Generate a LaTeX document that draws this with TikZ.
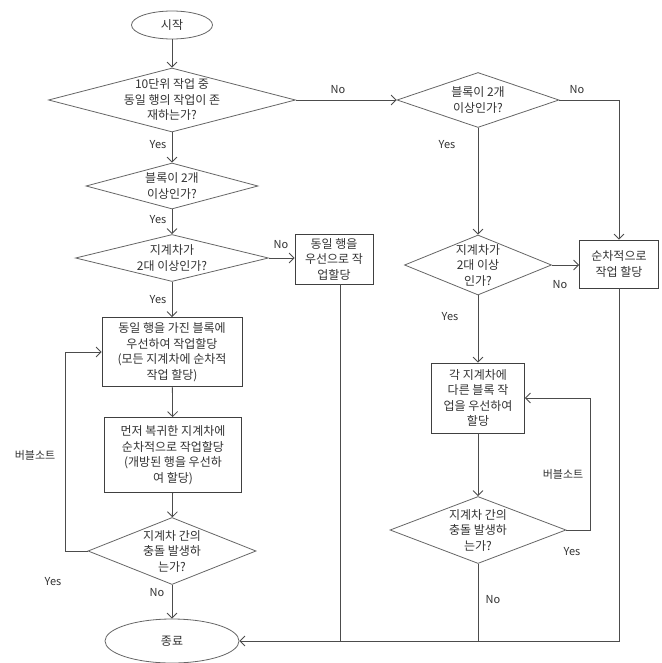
\documentclass[tikz,border=0pt]{standalone}
\usepackage{fontspec}
\setmainfont{Noto Sans CJK KR}
\usetikzlibrary{shapes.geometric,arrows.meta}
\tikzset{
  ln/.style={draw=black!70, line width=0.8pt},
  arr/.style={ln, -{Straight Barb[length=5pt,width=10pt]}},
  dia/.style={diamond, draw=black!60, line width=0.8pt, inner sep=0pt},
  box/.style={rectangle, draw=black!75, line width=0.8pt, inner sep=0pt, align=center, text=black!80, font=\fontsize{12}{15.5}\selectfont},
  term/.style={ellipse, draw=black!60, line width=0.8pt, inner sep=0pt, text=black!80, font=\fontsize{12}{15.5}\selectfont},
  dtxt/.style={align=center, text=black!80, font=\fontsize{12}{15.5}\selectfont},
  lbl/.style={text=black!80, font=\fontsize{11}{12}\selectfont, inner sep=0pt}
}
\begin{document}
\begin{tikzpicture}[x=1pt,y=-1pt]
\useasboundingbox[fill=white] (0,0) rectangle (661,663);
% left column
\node[term, minimum width=81pt, minimum height=28pt] (start) at (172,25) {시작};
\node[dia, minimum width=247pt, minimum height=64pt, label={[dtxt]center:10단위 작업 중\\동일 행의 작업이 존\\재하는가?}] (d1) at (172,100) {};
\node[dia, minimum width=172pt, minimum height=46pt, label={[dtxt]center:블록이 2개\\이상인가?}] (d2) at (172,186) {};
\node[dia, minimum width=193pt, minimum height=47pt, label={[dtxt]center:지계차가\\2대 이상인가?}] (d3) at (172,258) {};
\node[box, minimum width=78pt, minimum height=50pt] (bA) at (334,259) {동일 행을\\우선으로 작\\업할당};
\node[box, minimum width=140pt, minimum height=69pt] (b1) at (172,352) {동일 행을 가진 블록에\\우선하여 작업할당\\(모든 지계차에 순차적\\작업 할당)};
\node[box, minimum width=137pt, minimum height=75pt] (b2) at (173,455) {먼저 복귀한 지계차에\\순차적으로 작업할당\\(개방된 행을 우선하\\여 할당)};
\node[dia, minimum width=168pt, minimum height=67pt, label={[dtxt]center:지계차 간의\\충돌 발생하\\는가?}] (d4) at (172,551) {};
\node[term, minimum width=134pt, minimum height=44pt] (end) at (172,641) {종료};
% right column
\node[dia, minimum width=162pt, minimum height=55pt, label={[dtxt]center:블록이 2개\\이상인가?}] (r1) at (478,100) {};
\node[dia, minimum width=147pt, minimum height=60pt, label={[dtxt]center:지계차가\\2대 이상\\인가?}] (r2) at (478,265) {};
\node[box, minimum width=79pt, minimum height=48pt] (rB) at (619,264) {순차적으로\\작업 할당};
\node[box, minimum width=93pt, minimum height=70pt] (r3) at (478,398) {각 지계차에\\다른 블록 작\\업을 우선하여\\할당};
\node[dia, minimum width=176pt, minimum height=67pt, label={[dtxt]center:지계차 간의\\충돌 발생하\\는가?}] (r4) at (478,530) {};
% helper coordinates
\coordinate (lp) at (65,0);
\coordinate (rp) at (590,0);
\coordinate (aX) at (340,0);
% left connectors
\draw[arr] (start) -- (d1);
\draw[arr] (d1) -- (d2);
\draw[arr] (d2) -- (d3);
\draw[arr] (d3) -- (b1);
\draw[arr] (d3.east) -- (bA.west |- d3.east);
\draw[arr] (b1) -- (b2);
\draw[arr] (b2) -- (d4);
\draw[arr] (d4) -- (end);
\draw[arr] (d4.west) -- (d4.west -| lp) -- (b1.west -| lp) -- (b1.west);
% right connectors
\draw[arr] (d1.east) -- (r1.west);
\draw[arr] (r1.east) -- (r1.east -| rB.north) -- (rB.north);
\draw[arr] (r1) -- (r2);
\draw[arr] (r2.east) -- (r2.east -| rB.west);
\draw[arr] (r2) -- (r3);
\draw[arr] (r3) -- (r4);
\draw[arr] (r4.east) -- (r4.east -| rp) -- (r3.east -| rp) -- (r3.east);
% to end
\draw[ln] (bA.south -| aX) -- (end.east -| aX);
\draw[ln] (r4.south) -- (r4.south |- end.east);
\draw[arr] (rB.south) -- (rB.south |- end.east) -- (end.east);
% labels
\node[lbl] (y1) at (158,145) {Yes};
\node[lbl] (y2) at (158,220) {Yes};
\node[lbl] (y3) at (158,300) {Yes};
\node[lbl] (n1) at (281,245) {No};
\node[lbl] (n2) at (157,593) {No};
\node[lbl] (bs1) at (35,455) {버블소트};
\node[lbl] (y4) at (53,582) {Yes};
\node[lbl] (n3) at (338,90) {No};
\node[lbl] (n4) at (577,90) {No};
\node[lbl] (y5) at (447,145) {Yes};
\node[lbl] (n5) at (560,285) {No};
\node[lbl] (y6) at (450,317) {Yes};
\node[lbl] (bs2) at (563,474) {버블소트};
\node[lbl] (y7) at (572,552) {Yes};
\node[lbl] (n6) at (493,600) {No};
\end{tikzpicture}
\end{document}
